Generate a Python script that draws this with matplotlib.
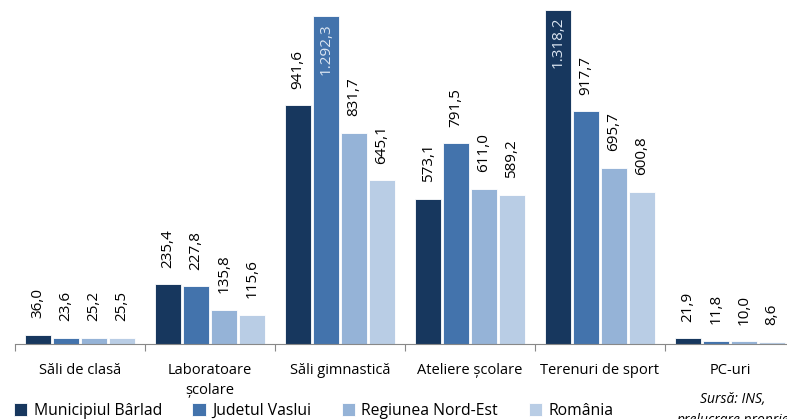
import numpy as np
import matplotlib.pyplot as plt

plt.rcParams['font.family'] = ['Open Sans', 'DejaVu Sans']

categories = ['Săli de clasă', 'Laboratoare\nșcolare', 'Săli gimnastică',
              'Ateliere școlare', 'Terenuri de sport', 'PC-uri']
series = ['Municipiul Bârlad', 'Judetul Vaslui', 'Regiunea Nord-Est', 'România']
barlad = [36.0, 235.4, 941.6, 573.1, 1318.2, 21.9]
vaslui = [23.6, 227.8, 1292.3, 791.5, 917.7, 11.8]
nord_est = [25.2, 135.8, 831.7, 611.0, 695.7, 10.0]
romania = [25.5, 115.6, 645.1, 589.2, 600.8, 8.6]
colors = ['#17375E', '#4373AC', '#95B3D7', '#B9CDE5']

def fmt(v):
    s = f'{v:,.1f}'
    return s.replace(',', 'X').replace('.', ',').replace('X', '.')

fig = plt.figure(figsize=(7.87, 4.19), dpi=100)
ax = fig.add_axes([15 / 787, 75 / 419, 780 / 787, 344 / 419])

x = np.arange(len(categories))
w = 0.215
data = [barlad, vaslui, nord_est, romania]
for i, (vals, c, name) in enumerate(zip(data, colors, series)):
    pos = x + (i - 1.5) * w
    ax.bar(pos, vals, width=w * 0.9, color=c, edgecolor='white', linewidth=0.6, label=name)
    for p, v in zip(pos, vals):
        if v > 1200:
            ax.annotate(fmt(v), (p, v), xytext=(0, -5), textcoords='offset points',
                        rotation=90, ha='center', va='top', fontsize=11, color='#DCE6F2')
        else:
            ax.annotate(fmt(v), (p, v), xytext=(0, 12), textcoords='offset points',
                        rotation=90, ha='center', va='bottom', fontsize=11, color='black')

ax.set_xlim(-0.5, len(categories) - 0.5)
ax.set_ylim(0, 1357)
for s in ['top', 'right', 'left']:
    ax.spines[s].set_visible(False)
ax.spines['bottom'].set_color('#888888')
ax.set_yticks([])
ax.set_xticks(np.arange(len(categories) + 1) - 0.5)
ax.set_xticklabels([])
ax.tick_params(axis='x', length=5, color='#888888')
for xi, lab in zip(x, categories):
    ax.annotate(lab, (xi, 0), xytext=(0, -14), textcoords='offset points',
                ha='center', va='top', fontsize=10.5, linespacing=1.45)

fig.legend(loc='center left', bbox_to_anchor=(14 / 787, 8 / 419), ncol=4, frameon=False,
           fontsize=11.3, handlelength=0.85, handleheight=0.85, handletextpad=0.4,
           columnspacing=1.95, borderaxespad=0, borderpad=0)
fig.text(733 / 787, 1 - 392 / 419, 'Sursă: INS,\nprelucrare proprie', ha='center', va='top',
         fontsize=10, style='italic', linespacing=1.5)

fig.savefig('out.png', dpi=100)
